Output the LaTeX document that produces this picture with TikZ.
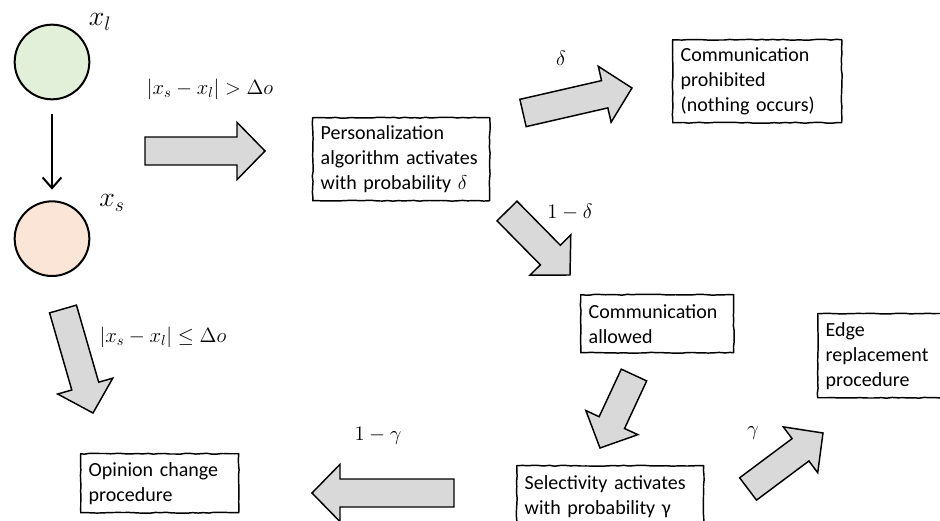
\RequirePackage{fix-cm}
\documentclass[tikz,border=0pt]{standalone}
\usepackage[no-math]{fontspec}
\setmainfont{Carlito}
\usetikzlibrary{positioning,calc,arrows.meta,decorations.pathmorphing}
\definecolor{leaderfill}{HTML}{E2F0D9}
\definecolor{seekerfill}{HTML}{FBE5D6}
\definecolor{arrowgray}{HTML}{D9D9D9}
\pgfmathsetseed{11}
\tikzset{
agent/.style={circle, draw, line width=1.5pt, minimum size=56pt, inner sep=0pt},
procbox/.style={draw, line width=1.1pt, line join=round, decorate, decoration={random steps, segment length=4pt, amplitude=0.35pt}, anchor=north west, align=left, inner xsep=6pt, inner ysep=0pt, font=\fontsize{15}{18.75}\selectfont},
fat/.style={draw, line width=1.1pt, fill=arrowgray, to path={let \p1=($(\tikztotarget)-(\tikztostart)$), \n1={atan2(\y1,\x1)}, \n2={veclen(\x1,\y1)} in
($(\tikztostart)+(\n1+90:10.5pt)$) -- ++(\n1:{\n2-21pt}) -- ++(\n1+90:11pt) -- (\tikztotarget)
-- ($(\tikztotarget)+(\n1+180:21pt)+(\n1-90:21.5pt)$) -- ++(\n1+90:11pt) -- ++(\n1+180:{\n2-21pt}) -- cycle}},
lab/.style={font=\fontsize{15.5}{18}\selectfont},
biglab/.style={font=\fontsize{21}{25}\selectfont}
}
\begin{document}
\begin{tikzpicture}[x=0.75pt,y=-0.75pt]
\useasboundingbox (0,0) rectangle (940,521);
\clip (0,0) rectangle (940,521);
\node[agent, fill=leaderfill] (xl) at (52,62) {};
\node[agent, fill=seekerfill, below=75pt of xl] (xs) {};
\node[biglab] (xllab) at (100,22) {$x_l$};
\node[biglab] (xslab) at (112,203) {$x_s$};
\draw[line width=1.5pt, -{Straight Barb[length=8pt,width=14pt]}, shorten <=10pt, shorten >=8pt] (xl) -- (xs);

\node[procbox, text width=120.75pt, minimum height=62.25pt] (pers) at (312,117) {Personalization\\algorithm activates\\with probability $\delta$};
\node[procbox, text width=114.75pt, minimum height=62.25pt] (prohib) at (672,39) {Communication\\prohibited\\(nothing occurs)};
\node[procbox, text width=102.75pt, minimum height=43.5pt] (allowed) at (580,294) {Communication\\allowed};
\node[procbox, text width=128.25pt, minimum height=47pt] (select) at (516,465) {Selectivity activates\\with probability γ};
\node[procbox, text width=110pt, minimum height=63pt] (edge) at (817,313) {Edge\\replacement\\procedure};
\node[procbox, text width=106.5pt, minimum height=44.25pt] (opin) at (80,453) {Opinion change\\procedure};

\coordinate (gtT) at (145,151); \coordinate (gtH) at (265,151);
\coordinate (dT) at (523,113); \coordinate (dH) at (632,88);
\coordinate (ndT) at (507,211); \coordinate (ndH) at (570,275);
\coordinate (alT) at (634,375); \coordinate (alH) at (600,448);
\coordinate (gT) at (748,489); \coordinate (gH) at (823,433);
\coordinate (ngT) at (454,493); \coordinate (ngH) at (312,493);
\coordinate (leT) at (63,309); \coordinate (leH) at (93,413);
\draw[fat] (gtT) to (gtH);
\draw[fat] (dT) to (dH);
\draw[fat] (ndT) to (ndH);
\draw[fat] (alT) to (alH);
\draw[fat] (gT) to (gH);
\draw[fat] (ngT) to (ngH);
\draw[fat] (leT) to (leH);

\node[lab] (gtlab) at (210,89) {$|x_s-x_l|>\Delta o$};
\node[lab] (lelab) at (163,337) {$|x_s-x_l|\leq\Delta o$};
\node[lab] (dlab) at (561,58) {$\delta$};
\node[lab] (ndlab) at (570,212) {$1-\delta$};
\node[lab] (glab) at (753,433) {$\gamma$};
\node[lab] (nglab) at (378,436) {$1-\gamma$};
\end{tikzpicture}
\end{document}
